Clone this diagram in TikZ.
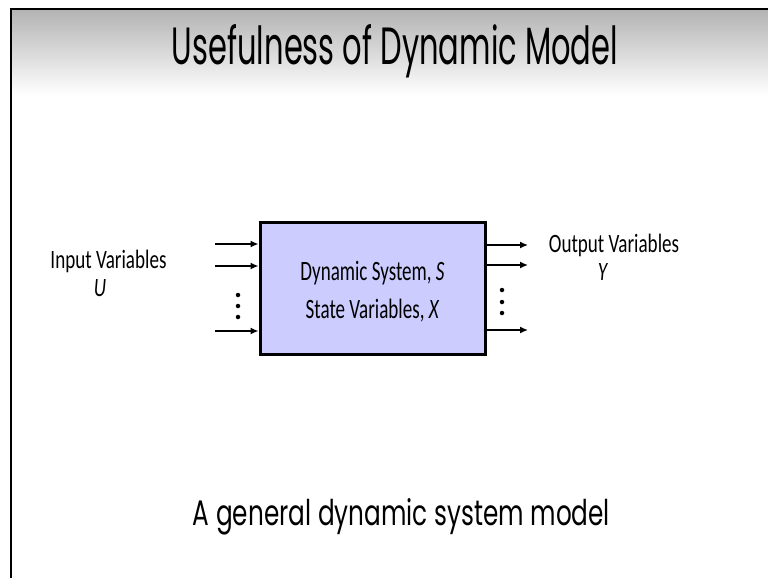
\documentclass[tikz,border=0pt]{standalone}
\usepackage{graphicx}
\usepackage{fontspec}
\setmainfont{Carlito}
\newfontfamily\gothic{Poppins}
\usetikzlibrary{arrows.meta}
\definecolor{boxfill}{RGB}{204,204,255}
\newcommand{\hsq}[1]{\scalebox{0.68}[1]{#1}}
\newcommand{\hsqs}[1]{\scalebox{0.72}[1]{#1}}
\begin{document}
\begin{tikzpicture}[x=1pt,y=-1pt,
  lbl/.style={anchor=base,inner sep=0pt,font=\fontsize{28}{30}\selectfont},
  side/.style={anchor=base,inner sep=0pt,font=\fontsize{26.5}{28}\selectfont},
  arr/.style={line width=1.4pt,-{Latex[length=8pt,width=7pt]}},
  dotmark/.style={circle,fill=black,inner sep=0pt,minimum size=4.5pt}]
\useasboundingbox (0,0) rectangle (768,578);
\fill[white] (0,0) rectangle (768,578);
\shade[top color=black!30,bottom color=white] (11,9) rectangle (768,95);
\draw[line width=2.5pt] (11,578) -- (11,9) -- (768,9);
% title and caption
\node[anchor=base,inner sep=0pt] (title) at (395,65) {\resizebox{446pt}{40pt}{\gothic Usefulness of Dynamic Model}};
\node[anchor=base,inner sep=0pt] (caption) at (401.5,525) {\resizebox{417pt}{27pt}{\gothic A general dynamic system model}};
% system box
\node[draw,line width=3pt,fill=boxfill,minimum width=225pt,minimum height=132pt,inner sep=0pt] (sys) at (372.5,288) {};
\node[lbl] (l1) at (372.5,280) {\hsq{Dynamic System, \textit{S}}};
\node[lbl] (l2) at (372.5,318) {\hsq{State Variables, \textit{X}}};
% inputs
\coordinate (i1) at (215,244);
\coordinate (i2) at (215,266);
\coordinate (i3) at (215,331);
\draw[arr] (i1) -- (i1 -| sys.west);
\draw[arr] (i2) -- (i2 -| sys.west);
\draw[arr] (i3) -- (i3 -| sys.west);
\node[dotmark] (id1) at (238,295) {};
\node[dotmark] (id2) at (238,306) {};
\node[dotmark] (id3) at (238,317) {};
% outputs
\coordinate (o1) at (528,245);
\coordinate (o2) at (528,265);
\coordinate (o3) at (528,330);
\draw[arr] (o1 -| sys.east) -- (o1);
\draw[arr] (o2 -| sys.east) -- (o2);
\draw[arr] (o3 -| sys.east) -- (o3);
\node[dotmark] (od1) at (502,290) {};
\node[dotmark] (od2) at (502,302) {};
\node[dotmark] (od3) at (502,313) {};
% labels
\node[side] (inlab) at (108.5,268) {\hsqs{Input Variables}};
\node[side] (inU) at (100,296) {\hsqs{\textit{U}}};
\node[side] (outlab) at (614,252) {\hsqs{Output Variables}};
\node[side] (outY) at (603,280) {\hsqs{\textit{Y}}};
\end{tikzpicture}
\end{document}
